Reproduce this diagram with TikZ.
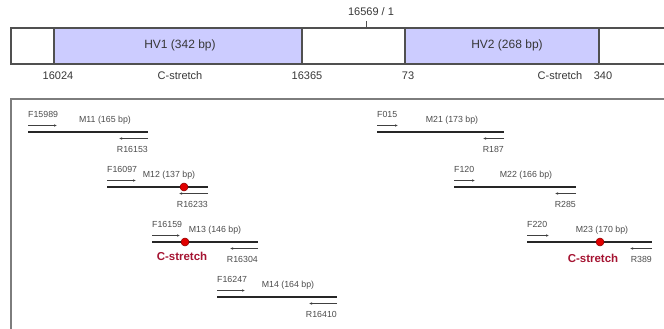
\documentclass[tikz,border=0pt]{standalone}
\usepackage{fontspec}
\setmainfont{Liberation Sans}
\usetikzlibrary{arrows.meta}
\definecolor{hvfill}{RGB}{204,204,255}
\definecolor{barline}{RGB}{80,80,80}
\definecolor{boxline}{RGB}{125,125,125}
\definecolor{lbl}{RGB}{55,55,55}
\definecolor{smallc}{RGB}{75,75,75}
\definecolor{cred}{RGB}{165,20,50}
\definecolor{dotred}{RGB}{225,0,0}
\definecolor{dotedge}{RGB}{140,0,0}

\newcommand{\amplrow}[9]{%
  \coordinate (#1a) at (#2,#4);
  \coordinate (#1b) at (#3,#4);
  \coordinate (#1fs) at (#2,#4-6.5);
  \coordinate (#1fe) at (#2+#5,#4-6.5);
  \coordinate (#1rs) at (#3,#4+6.5);
  \coordinate (#1re) at (#3-#5,#4+6.5);
  \draw[ampline] (#1a) -- (#1b);
  \draw[primer] (#1fs) -- (#1fe);
  \draw[primer] (#1rs) -- (#1re);
  \node[smalltxt,anchor=west] (#1F) at (#2,#4-17.5) {#6};
  \node[smalltxt] (#1M) at (#8,#4-11.5) {#7};
  \node[smalltxt,anchor=east] (#1R) at (#3,#4+17.5) {#9};
}

\begin{document}
\begin{tikzpicture}[x=1pt,y=-1pt,
  barstyle/.style={draw=barline,line width=1.3pt},
  hvbox/.style={fill=hvfill,draw=barline,line width=1.3pt},
  toptxt/.style={text=lbl,font=\fontsize{11}{12}\selectfont,inner sep=0pt},
  hvtxt/.style={text=lbl,font=\fontsize{12}{13}\selectfont,inner sep=0pt},
  smalltxt/.style={text=smallc,font=\fontsize{8.8}{10}\selectfont,inner sep=0pt},
  ampline/.style={draw=black!85,line width=1.6pt},
  primer/.style={draw=black!75,line width=0.6pt,-{Latex[length=3pt,width=2.6pt]}},
  reddot/.style={circle,fill=dotred,draw=dotedge,line width=0.5pt,minimum size=8pt,inner sep=0pt},
  cstxt/.style={text=cred,font=\bfseries\fontsize{11.5}{12}\selectfont,inner sep=0pt},
  boxstyle/.style={draw=boxline,line width=2pt}]
\useasboundingbox (0,0) rectangle (664,329);

% top bar
\fill[hvfill] (54,28) rectangle (302,64);
\fill[hvfill] (405,28) rectangle (599,64);
\draw[barstyle] (672,28) -- (11,28) -- (11,64) -- (672,64);
\draw[barstyle] (54,28) -- (54,64);
\draw[barstyle] (302,28) -- (302,64);
\draw[barstyle] (405,28) -- (405,64);
\draw[barstyle] (599,28) -- (599,64);
\coordinate (tickb) at (366,28);
\coordinate (ticka) at (366,21);
\draw[barline,line width=1pt] (tickb) -- (ticka);
\node[toptxt] (origin) at (371,12) {16569 / 1};

\node[hvtxt] (hv1) at (180,45) {HV1 (342 bp)};
\node[hvtxt] (hv2) at (507,45) {HV2 (268 bp)};

\node[toptxt] (p16024) at (58,76) {16024};
\node[toptxt] (cs1) at (180,76) {C-stretch};
\node[toptxt] (p16365) at (307,76) {16365};
\node[toptxt] (p73) at (408,76) {73};
\node[toptxt] (cs2) at (560,76) {C-stretch};
\node[toptxt] (p340) at (603,76) {340};

% lower box (cut off)
\draw[boxstyle] (672,99) -- (11,99) -- (11,340);

% amplicons
\amplrow{m11}{28}{148}{132}{29}{F15989}{M11 (165 bp)}{105}{R16153}
\amplrow{m12}{107}{208}{187}{29}{F16097}{M12 (137 bp)}{169}{R16233}
\amplrow{m13}{152}{258}{242}{28}{F16159}{M13 (146 bp)}{215}{R16304}
\amplrow{m14}{217}{337}{297}{28}{F16247}{M14 (164 bp)}{288}{R16410}
\amplrow{m21}{377}{504}{132}{21}{F015}{M21 (173 bp)}{452}{R187}
\amplrow{m22}{454}{576}{187}{21}{F120}{M22 (166 bp)}{526}{R285}
\amplrow{m23}{527}{652}{242}{22}{F220}{M23 (170 bp)}{602}{R389}

\node[reddot] (d12) at (184,187) {};
\node[reddot] (d13) at (185,242) {};
\node[reddot] (d23) at (600,242) {};
\node[cstxt] (c13) at (182,256) {C-stretch};
\node[cstxt] (c23) at (593,258) {C-stretch};
\end{tikzpicture}
\end{document}
